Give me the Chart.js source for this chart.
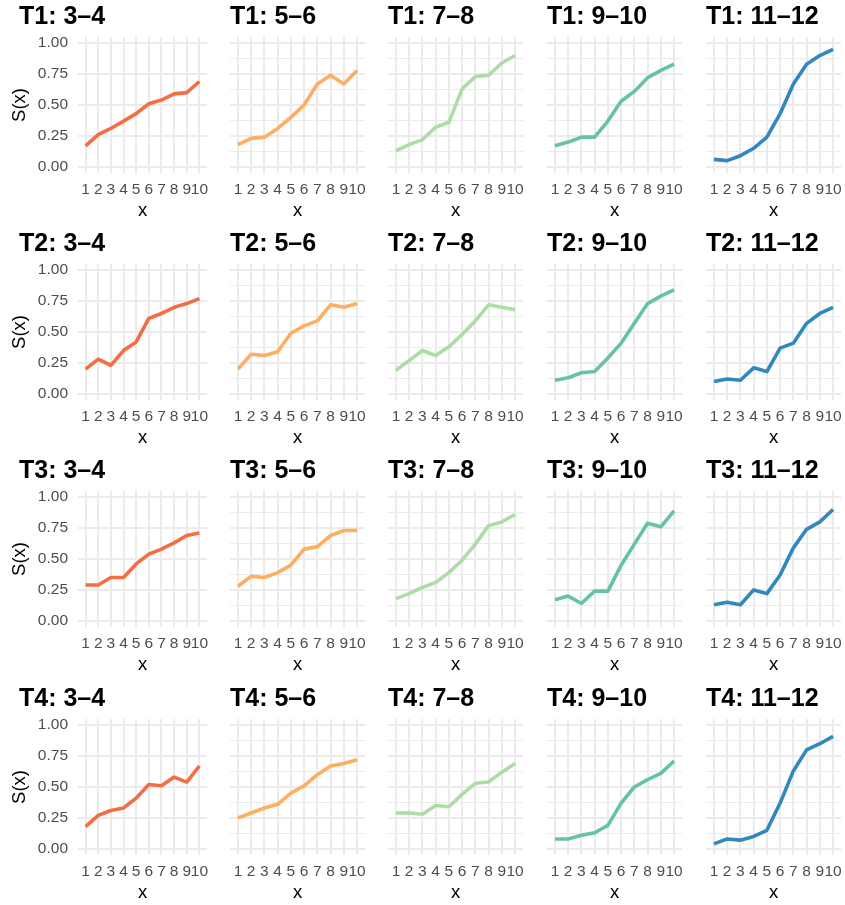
<!DOCTYPE html>
<html>
<head>
<meta charset="utf-8">
<script src="https://cdn.jsdelivr.net/npm/chart.js@4.4.1/dist/chart.umd.min.js"></script>
<style>
  html, body { margin: 0; padding: 0; background: #ffffff; }
  #wrap { position: relative; width: 845px; height: 905px; overflow: hidden; background: #ffffff; }
  #wrap canvas { position: absolute; }
</style>
</head>
<body>
<div id="wrap"></div>
<script>
// x positions and panel labels
const xValues = [1, 2, 3, 4, 5, 6, 7, 8, 9, 10];
const groups = ['T1', 'T2', 'T3', 'T4'];
const ranges = ['3–4', '5–6', '7–8', '9–10', '11–12'];
const rangeColors = ['#F46D43', '#FDAE61', '#ABDDA4', '#66C2A5', '#3288BD'];
const yMajorTicks = [0, 0.25, 0.5, 0.75, 1];
const yMinorTicks = [0.125, 0.375, 0.625, 0.875];

// S(x) per group and range
const t1_3_4   = [0.17, 0.26, 0.31, 0.37, 0.43, 0.51, 0.54, 0.59, 0.60, 0.69];
const t1_5_6   = [0.18, 0.23, 0.24, 0.31, 0.40, 0.50, 0.67, 0.74, 0.67, 0.78];
const t1_7_8   = [0.13, 0.18, 0.22, 0.32, 0.36, 0.63, 0.73, 0.74, 0.84, 0.90];
const t1_9_10  = [0.17, 0.20, 0.24, 0.24, 0.37, 0.53, 0.61, 0.72, 0.78, 0.83];
const t1_11_12 = [0.06, 0.05, 0.09, 0.15, 0.24, 0.43, 0.67, 0.83, 0.90, 0.95];

const t2_3_4   = [0.20, 0.28, 0.23, 0.35, 0.42, 0.61, 0.65, 0.70, 0.73, 0.77];
const t2_5_6   = [0.20, 0.32, 0.31, 0.34, 0.49, 0.55, 0.59, 0.72, 0.70, 0.73];
const t2_7_8   = [0.19, 0.27, 0.35, 0.31, 0.38, 0.48, 0.59, 0.72, 0.70, 0.68];
const t2_9_10  = [0.11, 0.13, 0.17, 0.18, 0.29, 0.41, 0.57, 0.73, 0.79, 0.84];
const t2_11_12 = [0.10, 0.12, 0.11, 0.21, 0.18, 0.37, 0.41, 0.57, 0.65, 0.70];

const t3_3_4   = [0.29, 0.29, 0.35, 0.35, 0.46, 0.54, 0.58, 0.63, 0.69, 0.71];
const t3_5_6   = [0.28, 0.36, 0.35, 0.39, 0.45, 0.58, 0.60, 0.69, 0.73, 0.73];
const t3_7_8   = [0.18, 0.22, 0.27, 0.31, 0.39, 0.49, 0.62, 0.77, 0.80, 0.86];
const t3_9_10  = [0.17, 0.20, 0.14, 0.24, 0.24, 0.45, 0.62, 0.79, 0.76, 0.89];
const t3_11_12 = [0.13, 0.15, 0.13, 0.25, 0.22, 0.37, 0.59, 0.74, 0.80, 0.90];

const t4_3_4   = [0.18, 0.27, 0.31, 0.33, 0.41, 0.52, 0.51, 0.58, 0.54, 0.67];
const t4_5_6   = [0.25, 0.29, 0.33, 0.36, 0.45, 0.51, 0.60, 0.67, 0.69, 0.72];
const t4_7_8   = [0.29, 0.29, 0.28, 0.35, 0.34, 0.44, 0.53, 0.54, 0.62, 0.69];
const t4_9_10  = [0.08, 0.08, 0.11, 0.13, 0.19, 0.37, 0.50, 0.56, 0.61, 0.71];
const t4_11_12 = [0.04, 0.08, 0.07, 0.10, 0.15, 0.37, 0.63, 0.80, 0.85, 0.91];

const panelValues = [
  [t1_3_4, t1_5_6, t1_7_8, t1_9_10, t1_11_12],
  [t2_3_4, t2_5_6, t2_7_8, t2_9_10, t2_11_12],
  [t3_3_4, t3_5_6, t3_7_8, t3_9_10, t3_11_12],
  [t4_3_4, t4_5_6, t4_7_8, t4_9_10, t4_11_12]
];

// grid geometry (page pixels)
const plotLefts  = [78, 230, 388, 547, 706];
const plotWidths = [129, 135, 135, 135, 135];
const plotTops   = [37, 264, 491, 719];
const plotHeight = 136;
const titleBand  = 37;
const xAxisBand  = 50;
const sidePad    = 12;

const FONT = '"Liberation Sans", Arial, Helvetica, sans-serif';
const GRID = '#EBEBEB';
const TITLE_SIZE = 25;

// moves the panel title to a fixed x inside the canvas
const titleShift = {
  id: 'titleShift',
  afterLayout(chart, args, opts) {
    if (chart.titleBlock && opts && opts.x != null) chart.titleBlock.left = opts.x;
  }
};

const wrap = document.getElementById('wrap');

groups.forEach((g, r) => {
  ranges.forEach((rg, c) => {
    const first = c === 0;
    const canvasLeft = first ? 0 : plotLefts[c] - sidePad;
    const padLeft = first ? 0 : sidePad;
    const canvasW = plotLefts[c] + plotWidths[c] + sidePad - canvasLeft;
    const canvasTop = plotTops[r] - titleBand;
    const canvasH = titleBand + plotHeight + xAxisBand;

    const cv = document.createElement('canvas');
    cv.width = canvasW; cv.height = canvasH;
    cv.style.left = canvasLeft + 'px';
    cv.style.top = canvasTop + 'px';
    cv.style.width = canvasW + 'px';
    cv.style.height = canvasH + 'px';
    wrap.appendChild(cv);

    const vals = panelValues[r][c];
    const titleTop = 2.4;
    new Chart(cv, {
      type: 'line',
      data: {
        datasets: [{
          data: xValues.map((x, i) => ({ x: x, y: vals[i] })),
          borderColor: rangeColors[c],
          borderWidth: 3.6,
          pointRadius: 0,
          tension: 0,
          borderCapStyle: 'butt',
          borderJoinStyle: 'round',
          fill: false
        }]
      },
      options: {
        responsive: false,
        animation: false,
        devicePixelRatio: 1,
        events: [],
        layout: { padding: { left: padLeft, right: sidePad, top: 0, bottom: 0 } },
        plugins: {
          legend: { display: false },
          tooltip: { enabled: false },
          title: {
            display: true,
            text: g + ': ' + rg,
            align: 'start',
            color: '#000000',
            font: { family: FONT, size: TITLE_SIZE, weight: 'bold', lineHeight: 1.2 },
            padding: { top: titleTop, bottom: titleBand - titleTop - TITLE_SIZE * 1.2 }
          },
          titleShift: { x: first ? 19 : null }
        },
        scales: {
          x: {
            type: 'linear',
            min: 0.4,
            max: 10.6,
            afterBuildTicks: (s) => { s.ticks = xValues.map(v => ({ value: v })); },
            afterFit: (s) => { s.height = xAxisBand; },
            border: { display: false },
            grid: { color: GRID, lineWidth: 2, drawTicks: false },
            ticks: {
              autoSkip: false,
              maxRotation: 0,
              minRotation: 0,
              padding: 7.5,
              color: '#4D4D4D',
              font: { family: FONT, size: 15.5 },
              callback: (v) => String(v)
            },
            title: {
              display: true,
              text: 'x',
              color: '#000000',
              font: { family: FONT, size: 18.5, lineHeight: 1.2 },
              padding: { top: 0, bottom: 0.8 }
            }
          },
          y: {
            type: 'linear',
            min: -0.05,
            max: 1.05,
            afterBuildTicks: (s) => {
              s.ticks = yMajorTicks.concat(yMinorTicks).sort((a, b) => a - b).map(v => ({ value: v }));
            },
            afterFit: (s) => { s.width = first ? plotLefts[0] : 0; },
            border: { display: false },
            grid: {
              color: GRID,
              drawTicks: false,
              lineWidth: (ctx) => (ctx.tick && yMinorTicks.includes(ctx.tick.value)) ? 1 : 2
            },
            ticks: {
              display: first,
              padding: 10,
              color: '#4D4D4D',
              font: { family: FONT, size: 15.5 },
              callback: (v) => yMajorTicks.includes(v) ? v.toFixed(2) : ''
            },
            title: {
              display: first,
              text: 'S(x)',
              color: '#000000',
              font: { family: FONT, size: 18.5, lineHeight: 1.2 },
              padding: { top: 9, bottom: 0 }
            }
          }
        }
      },
      plugins: [titleShift]
    });
  });
});
</script>
</body>
</html>
